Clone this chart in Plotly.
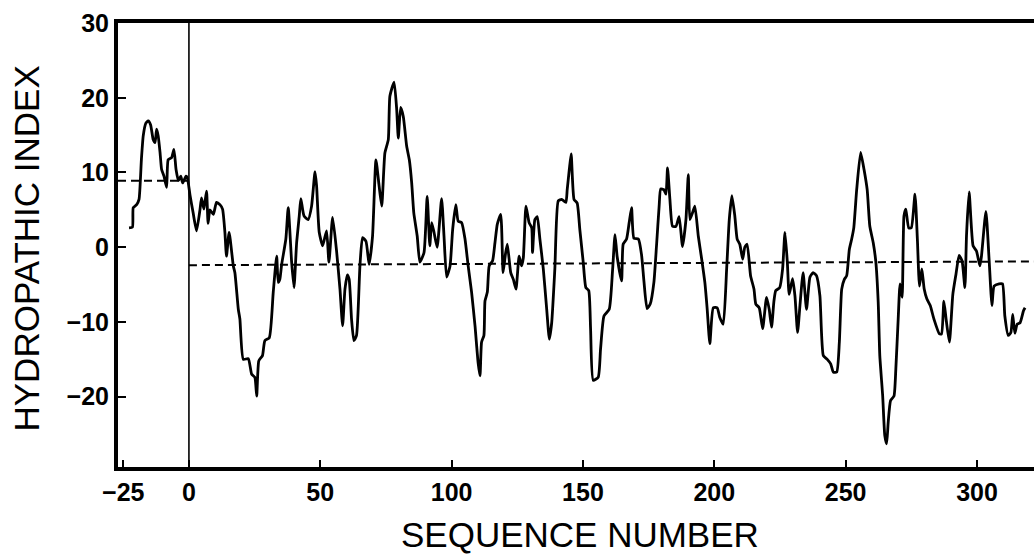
import plotly.graph_objects as go

# hydropathy profile (sequence number, hydropathic index)
seq = [-22.8, -21.5, -21.2, -19.9, -19.0, -18.1, -17.4, -16.4, -15.5, -14.6,
       -13.6, -12.9, -12.3, -11.7, -11.0, -10.4, -9.5, -8.5, -7.9, -6.6,
       -5.7, -4.9, -4.0, -3.1, -2.4, -1.1, -0.6, 0.4, 1.6, 2.9,
       4.2, 4.8, 5.7, 6.7, 7.3, 8.0, 9.3, 10.5, 11.8, 12.8,
       13.7, 14.3, 15.3, 16.9, 17.5, 18.8, 19.4, 20.7, 22.6, 23.9,
       25.1, 25.8, 26.6, 28.0, 28.9, 30.6, 32.1, 33.4, 34.0, 34.6,
       35.3, 36.9, 37.8, 39.1, 40.0, 41.0, 42.0, 42.6, 43.8, 45.4,
       46.7, 48.0, 48.6, 49.6, 50.9, 52.4, 53.3, 54.7, 56.2, 57.5,
       58.5, 59.4, 60.3, 61.0, 61.9, 62.8, 63.8, 65.1, 66.1, 67.4,
       68.6, 69.9, 71.2, 72.4, 73.4, 74.6, 75.9, 76.5, 78.1, 79.1,
       79.7, 80.6, 81.6, 82.9, 83.9, 84.8, 85.6, 86.9, 87.9, 89.5,
       90.7, 91.7, 92.4, 93.3, 94.5, 96.2, 97.1, 98.1, 99.4, 100.4,
       101.6, 102.5, 103.8, 105.1, 106.3, 107.6, 108.9, 110.1, 110.8, 111.4,
       112.3, 112.7, 113.6, 114.3, 115.6, 116.5, 117.4, 118.7, 119.6, 120.5,
       121.2, 122.5, 123.5, 124.5, 125.7, 126.6, 127.3, 128.3, 129.5, 130.5,
       130.8, 131.7, 132.6, 133.6, 134.9, 136.2, 137.2, 138.1, 139.3, 140.6,
       141.9, 143.5, 144.0, 144.8, 145.5, 146.6, 147.8, 148.8, 150.1, 151.1,
       152.2, 152.9, 153.9, 155.8, 156.7, 158.0, 160.0, 161.3, 162.2, 163.0,
       164.7, 165.3, 166.6, 167.6, 168.5, 169.4, 171.1, 172.3, 173.2, 174.4,
       175.6, 177.0, 178.0, 179.0, 179.6, 180.8, 181.6, 182.2, 183.1, 184.1,
       185.4, 186.6, 187.9, 189.2, 190.1, 190.7, 191.7, 192.6, 193.9, 195.2,
       196.4, 197.3, 198.3, 199.6, 201.1, 202.1, 203.4, 204.7, 205.7, 206.7,
       207.8, 208.7, 209.7, 210.8, 211.6, 212.5, 213.8, 215.1, 215.8, 217.1,
       218.4, 219.9, 220.9, 221.8, 222.7, 223.4, 224.9, 226.0, 226.9, 227.8,
       228.5, 229.8, 230.7, 231.7, 232.6, 233.8, 235.1, 236.4, 237.6, 238.9,
       240.2, 241.5, 243.0, 244.3, 245.3, 246.6, 247.6, 248.5, 249.5, 250.4,
       251.4, 252.3, 253.1, 254.2, 255.7, 257.0, 258.2, 259.2, 260.5, 261.5,
       262.4, 263.0, 264.1, 264.9, 265.6, 266.2, 267.1, 268.4, 269.1, 270.0,
       270.7, 271.5, 272.2, 272.9, 274.0, 275.0, 276.4, 277.3, 278.1, 279.0,
       279.9, 280.9, 282.2, 283.6, 285.7, 286.5, 287.4, 288.3, 289.5, 290.8,
       292.0, 293.2, 294.3, 295.4, 296.0, 297.0, 298.5, 299.8, 301.1, 301.7,
       303.4, 304.6, 305.7, 306.5, 308.4, 309.7, 310.6, 311.9, 312.9, 313.6,
       314.4, 315.3, 316.4, 317.7, 318.3]
hydro = [2.6, 2.7, 5.3, 5.7, 6.4, 11.7, 14.9, 16.6, 16.9, 16.4,
         14.4, 14.0, 15.8, 14.9, 12.7, 10.4, 9.5, 8.0, 11.7, 12.0,
         13.1, 10.4, 8.9, 9.5, 8.6, 9.5, 9.3, 7.0, 4.6, 2.2,
         5.0, 6.6, 5.1, 7.5, 3.2, 5.0, 4.4, 6.0, 5.7, 5.1,
         2.0, -1.2, 2.0, -2.5, -3.4, -8.3, -9.6, -15.0, -14.9, -17.0,
         -17.4, -19.9, -15.2, -14.5, -12.5, -12.1, -6.0, -1.2, -4.7, -4.3,
         -2.3, 1.1, 5.3, -2.0, -5.4, 0.6, 4.2, 6.5, 4.2, 3.7,
         5.5, 10.1, 8.2, 2.0, 0.2, 2.2, -2.0, 4.0, -0.5, -5.6,
         -10.5, -5.6, -3.7, -4.3, -9.6, -12.5, -11.8, -2.5, 1.3, 0.8,
         -2.3, 1.5, 11.7, 8.2, 5.5, 12.6, 14.4, 20.2, 22.1, 18.4,
         14.6, 18.7, 17.5, 13.5, 11.7, 8.6, 4.6, 1.5, -2.0, -0.7,
         6.8, 0.2, 3.3, 2.0, 0.0, 6.5, 1.5, -4.0, -2.5, 2.4,
         5.7, 3.5, 3.3, 1.1, -2.5, -6.0, -10.5, -15.5, -17.2, -12.7,
         -11.8, -7.2, -6.0, -2.5, -1.8, 0.6, 3.1, 4.4, -3.4, -0.9,
         0.4, -3.4, -4.3, -5.6, -1.2, -2.5, -1.4, 5.5, 3.3, 2.6,
         -0.7, 3.7, 4.1, 1.1, -2.9, -8.3, -12.3, -10.1, -2.9, 6.2,
         6.4, 6.0, 7.7, 10.4, 12.5, 6.4, 5.9, 2.4, -2.0, -5.4,
         -5.8, -10.9, -17.8, -17.4, -13.6, -9.2, -8.3, -2.9, 1.7, -1.2,
         -4.5, 0.4, 1.1, 3.3, 5.3, 1.2, 1.1, -1.0, -4.5, -8.2,
         -7.6, -4.7, 0.2, 5.5, 7.8, 7.7, 7.1, 10.6, 6.4, 2.8,
         2.8, 4.1, 0.1, 3.7, 9.7, 3.7, 4.6, 5.5, 1.5, -1.6,
         -4.7, -8.3, -12.9, -8.1, -8.1, -9.4, -10.3, -2.9, 3.7, 6.9,
         4.2, 1.1, 0.4, -1.6, 0.0, 0.4, -3.8, -5.6, -7.6, -8.1,
         -10.9, -6.7, -8.3, -10.7, -7.2, -5.8, -5.4, -2.9, 2.0, -2.0,
         -6.3, -4.2, -6.5, -11.4, -7.8, -3.4, -8.3, -4.0, -3.4, -3.8,
         -6.5, -14.5, -15.0, -15.6, -16.7, -16.7, -12.7, -5.6, -4.3, -3.8,
         -0.3, 1.1, 2.6, 7.7, 12.7, 10.4, 7.7, 2.8, 0.6, -2.0,
         -7.4, -14.5, -19.9, -25.2, -26.3, -23.4, -20.5, -19.9, -16.3, -9.6,
         -4.9, -6.7, 4.2, 5.1, 2.6, 2.6, 7.1, 1.1, -5.2, -2.9,
         -5.6, -6.9, -7.8, -9.6, -11.6, -11.6, -7.2, -9.8, -12.7, -6.3,
         -3.6, -1.1, -1.8, -5.4, 1.5, 7.4, 0.2, -0.5, -2.5, -1.2,
         4.8, -1.6, -7.8, -5.2, -4.9, -4.9, -9.2, -11.8, -11.4, -9.0,
         -11.5, -10.3, -10.1, -8.5, -8.1]

# average hydropathy of the signal region and of the mature protein
signal_x = [-27.0, 0.0]
signal_y = [8.9, 8.9]
mature_x = [0.0, 321.7]
mature_y = [-2.4, -1.9]

xticks = [-25, 0, 50, 100, 150, 200, 250, 300]
yticks = [-20, -10, 0, 10, 20, 30]

fig = go.Figure()
fig.add_trace(go.Scatter(x=signal_x, y=signal_y, mode="lines",
                         line=dict(color="black", width=2, dash="8px,5px")))
fig.add_trace(go.Scatter(x=mature_x, y=mature_y, mode="lines",
                         line=dict(color="black", width=2, dash="8px,5px")))
fig.add_trace(go.Scatter(x=seq, y=hydro, mode="lines",
                         line=dict(color="black", width=2.8,
                                   shape="spline", smoothing=0.5)))
fig.add_vline(x=0, line=dict(color="black", width=1.6))

tick_font = dict(family="Liberation Sans", size=25, color="black", weight="bold")

fig.update_layout(
    width=1034, height=556,
    margin=dict(l=118, r=0, t=23, b=89),
    plot_bgcolor="white", paper_bgcolor="white",
    showlegend=False,
    xaxis=dict(range=[-27.0, 321.7], tickvals=xticks, ticks="inside",
               ticklen=7, tickwidth=2, tickcolor="black",
               showline=True, linewidth=4, linecolor="black", mirror=True,
               showgrid=False, zeroline=False, tickfont=tick_font),
    yaxis=dict(range=[-29.4, 30], tickvals=yticks, ticks="inside",
               ticklen=8, tickwidth=2, tickcolor="black",
               showline=True, linewidth=4, linecolor="black",
               showgrid=False, zeroline=False, tickfont=tick_font),
    annotations=[
        dict(text="HYDROPATHIC INDEX", xref="paper", yref="paper",
             x=-0.1, y=0.493, textangle=-90, showarrow=False,
             xanchor="center", yanchor="middle",
             font=dict(family="Liberation Sans", size=35, color="black")),
        dict(text="SEQUENCE NUMBER", xref="paper", yref="paper",
             x=0.504, y=-0.153, showarrow=False,
             xanchor="center", yanchor="middle",
             font=dict(family="Liberation Sans", size=35, color="black")),
    ],
)

# page body has a default 8px margin; drop it so the figure sits at the corner
fig.write_html("out.html", config={"displayModeBar": False},
               post_script="document.body.style.margin='0';"
                           "document.body.style.overflow='hidden';")
